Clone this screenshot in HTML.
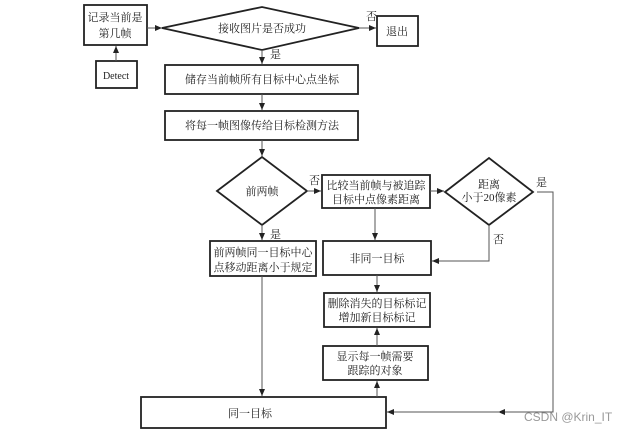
<!DOCTYPE html>
<html><head><meta charset="utf-8"><style>
html,body{margin:0;padding:0;background:#fff;}
svg{display:block;}
text{font-family:"Liberation Serif","Noto Serif CJK SC","Noto Sans CJK SC",serif;font-size:11px;fill:#222;}
</style></head><body>
<svg width="626" height="433" viewBox="0 0 626 433" xmlns="http://www.w3.org/2000/svg">
<defs><marker id="a" markerWidth="8" markerHeight="8" refX="7" refY="4" orient="auto" markerUnits="userSpaceOnUse"><path d="M0,1 L7,4 L0,7 Z" fill="#222"/></marker></defs>
<g fill="none" stroke="#222" stroke-width="1.8">
<rect x="84" y="5" width="63" height="40"/>
<rect x="96" y="61" width="41" height="27"/>
<polygon points="162,28 262,7 359,28 262,50"/>
<rect x="377" y="16" width="41" height="30"/>
<rect x="165" y="65" width="193" height="29"/>
<rect x="165" y="111" width="193" height="29"/>
<polygon points="217,191 262,157 307,191 262,225"/>
<rect x="322" y="175" width="108" height="33"/>
<polygon points="445,192 489,158 533,192 489,225"/>
<rect x="210" y="241" width="106" height="35"/>
<rect x="323" y="241" width="108" height="34"/>
<rect x="324" y="293" width="106" height="34"/>
<rect x="323" y="346" width="105" height="34"/>
<rect x="141" y="397" width="245" height="31"/>
</g>
<g fill="none" stroke="#555" stroke-width="1" marker-end="url(#a)">
<line x1="147" y1="28" x2="162" y2="28"/>
<line x1="116" y1="61" x2="116" y2="46"/>
<line x1="359" y1="28" x2="376" y2="28"/>
<line x1="262" y1="50" x2="262" y2="64"/>
<line x1="262" y1="94" x2="262" y2="110"/>
<line x1="262" y1="140" x2="262" y2="156"/>
<line x1="307" y1="191" x2="321" y2="191"/>
<line x1="430" y1="191" x2="444" y2="191"/>
<line x1="262" y1="225" x2="262" y2="240"/>
<line x1="375" y1="208" x2="375" y2="240"/>
<polyline points="489,225 489,261 432,261"/>
<line x1="377" y1="275" x2="377" y2="292"/>
<line x1="377" y1="346" x2="377" y2="328"/>
<line x1="377" y1="397" x2="377" y2="381"/>
<line x1="262" y1="276" x2="262" y2="396"/>
<polyline points="537,192 553,192 553,412 498,412"/>
<line x1="500" y1="412" x2="387" y2="412"/>
</g>
<text x="115" y="21" text-anchor="middle">记录当前是</text>
<text x="115" y="37" text-anchor="middle">第几帧</text>
<text x="116" y="79" text-anchor="middle" style="font-size:10px">Detect</text>
<text x="262" y="32" text-anchor="middle">接收图片是否成功</text>
<text x="366" y="20">否</text>
<text x="397" y="35" text-anchor="middle">退出</text>
<text x="270" y="58">是</text>
<text x="262" y="83" text-anchor="middle">储存当前帧所有目标中心点坐标</text>
<text x="262" y="129" text-anchor="middle">将每一帧图像传给目标检测方法</text>
<text x="262" y="195" text-anchor="middle">前两帧</text>
<text x="309" y="184">否</text>
<text x="376" y="189" text-anchor="middle">比较当前帧与被追踪</text>
<text x="376" y="203" text-anchor="middle">目标中点像素距离</text>
<text x="489" y="188" text-anchor="middle">距离</text>
<text x="489" y="201" text-anchor="middle">小于20像素</text>
<text x="536" y="186">是</text>
<text x="493" y="243">否</text>
<text x="270" y="238">是</text>
<text x="263" y="256" text-anchor="middle">前两帧同一目标中心</text>
<text x="263" y="271" text-anchor="middle">点移动距离小于规定</text>
<text x="377" y="262" text-anchor="middle">非同一目标</text>
<text x="377" y="307" text-anchor="middle">删除消失的目标标记</text>
<text x="377" y="321" text-anchor="middle">增加新目标标记</text>
<text x="375" y="360" text-anchor="middle">显示每一帧需要</text>
<text x="375" y="374" text-anchor="middle">跟踪的对象</text>
<text x="250" y="417" text-anchor="middle">同一目标</text>
<text x="524" y="421" style="font-family:'Liberation Sans',sans-serif;font-size:12px;fill:#999">CSDN @Krin_IT</text>
</svg>
</body></html>
